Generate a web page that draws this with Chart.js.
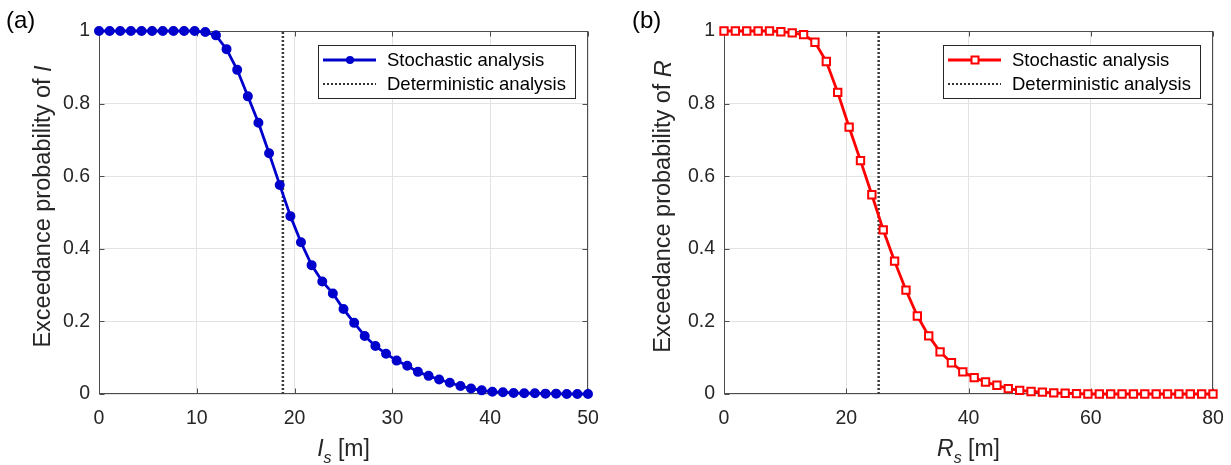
<!DOCTYPE html>
<html><head><meta charset="utf-8">
<script src="https://cdn.jsdelivr.net/npm/chart.js@4.4.1/dist/chart.umd.min.js"></script>
<style>
html,body{margin:0;padding:0;background:#fff;}
#wrap{position:relative;width:1231px;height:465px;overflow:hidden;background:#fff;}
canvas{position:absolute;top:0;}
#cA{left:0}
#cB{left:615px}
</style></head><body>
<div id="wrap"><canvas id="cA" width="615" height="465"></canvas><canvas id="cB" width="616" height="465"></canvas></div>
<script>
// ─── Data: panel (a) ───
const xA=[0,1.09,2.17,3.26,4.35,5.43,6.52,7.61,8.70,9.78,10.87,11.96,13.04,14.13,15.22,16.30,17.39,18.48,19.57,20.65,
  21.74,22.83,23.91,25.00,26.09,27.17,28.26,29.35,30.43,31.52,32.61,33.70,34.78,35.87,36.96,38.04,39.13,40.22,41.30,
  42.39,43.48,44.57,45.65,46.74,47.83,48.91,50.00];
const probA=[1,1,1,1,1,1,1,1,1,1,0.997,0.988,0.950,0.893,0.820,0.747,0.663,0.576,0.490,0.418,
  0.355,0.310,0.277,0.234,0.196,0.160,0.132,0.111,0.092,0.078,0.061,0.050,0.040,0.031,0.022,0.015,0.010,0.006,0.005,
  0.003,0.002,0.002,0.001,0.001,0,0,0];
const detA=18.8;
const ticksXA=[0,10,20,30,40,50];

// ─── Data: panel (b) ───
const xB=[0,1.86,3.72,5.58,7.44,9.30,11.16,13.02,14.88,16.74,18.60,20.47,22.33,24.19,26.05,27.91,29.77,31.63,33.49,35.35,
  37.21,39.07,40.93,42.79,44.65,46.51,48.37,50.23,52.09,53.95,55.81,57.67,59.53,61.40,63.26,65.12,66.98,68.84,70.70,
  72.56,74.42,76.28,78.14,80.00];
const probB=[1,1,1,1,1,0.998,0.995,0.990,0.969,0.916,0.831,0.735,0.643,0.549,0.452,0.366,0.286,0.215,0.160,0.116,
  0.086,0.061,0.045,0.033,0.024,0.015,0.010,0.007,0.005,0.003,0.002,0.001,0,0,0,0,0,0,0,0,0,0,0,0];
const detB=25.3;
const ticksXB=[0,20,40,60,80];

const ticksY=[0,0.2,0.4,0.6,0.8,1];
const legendLabels=['Stochastic analysis','Deterministic analysis'];

const FONT="'Liberation Sans', Arial, Helvetica, sans-serif";
const INK='#262626';

function drawParts(ctx,parts,x,y,align){
    // parts: [text, italic, size, dy]
    let w=0;
    parts.forEach(p=>{ctx.font=(p[1]?'italic ':'')+p[2]+'px '+FONT;w+=ctx.measureText(p[0]).width;});
    let cx=align==='center'?x-w/2:x;
    parts.forEach(p=>{
        ctx.font=(p[1]?'italic ':'')+p[2]+'px '+FONT;
        ctx.fillText(p[0],cx,y+(p[3]||0));
        cx+=ctx.measureText(p[0]).width;
    });
}

function framePlugin(o){
    return {
        id:'frame',
        beforeDatasetsDraw(chart){
            const ctx=chart.ctx,a=chart.chartArea,xs=chart.scales.x,ys=chart.scales.y;
            ctx.save();
            ctx.strokeStyle='#4d4d4d';ctx.lineWidth=1;
            const L=Math.round(a.left)+.5,R=Math.round(a.right)-.5,T=Math.round(a.top)+.5,B=Math.round(a.bottom)-.5;
            ctx.strokeRect(L,T,R-L,B-T);
            ctx.beginPath();
            xs.ticks.forEach(t=>{
                const px=Math.round(xs.getPixelForValue(t.value))+.5;
                ctx.moveTo(px,B);ctx.lineTo(px,B-5);
                ctx.moveTo(px,T);ctx.lineTo(px,T+5);
            });
            ys.ticks.forEach(t=>{
                const py=Math.round(ys.getPixelForValue(t.value))+.5;
                ctx.moveTo(L,py);ctx.lineTo(L+5,py);
                ctx.moveTo(R,py);ctx.lineTo(R-5,py);
            });
            ctx.stroke();
            ctx.restore();
        },
        afterDraw(chart){
            const ctx=chart.ctx,a=chart.chartArea;
            ctx.save();
            // legend box
            const bw=257,bh=53;
            const bx=Math.round(a.right)-13-bw,by=Math.round(a.top)+14;
            ctx.fillStyle='#fff';ctx.fillRect(bx,by,bw,bh);
            ctx.strokeStyle=INK;ctx.lineWidth=1;ctx.strokeRect(bx+.5,by+.5,bw,bh);
            const r1=by+15,r2=by+39;
            ctx.strokeStyle=o.color;ctx.lineWidth=2.8;
            ctx.beginPath();ctx.moveTo(bx+5,r1);ctx.lineTo(bx+58,r1);ctx.stroke();
            if(o.marker==='circle'){
                ctx.fillStyle=o.color;ctx.beginPath();ctx.arc(bx+32,r1,4,0,Math.PI*2);ctx.fill();
            }else{
                ctx.fillStyle='#fff';ctx.lineWidth=2;
                ctx.fillRect(bx+28.5,r1-3.5,7,7);ctx.strokeRect(bx+28.5,r1-3.5,7,7);
            }
            ctx.strokeStyle='#333';ctx.lineWidth=2;ctx.setLineDash([2,2]);
            ctx.beginPath();ctx.moveTo(bx+5,r2);ctx.lineTo(bx+58,r2);ctx.stroke();
            ctx.setLineDash([]);
            ctx.fillStyle='#000';ctx.textBaseline='middle';ctx.textAlign='left';
            ctx.font='18.5px '+FONT;
            ctx.fillText(legendLabels[0],bx+69,r1+1);
            ctx.fillText(legendLabels[1],bx+69,r2+1);

            // axis titles
            ctx.fillStyle=INK;
            ctx.textBaseline='alphabetic';
            drawParts(ctx,[[o.sym,true,23],['s',true,16,7],[' [m]',false,23]],(a.left+a.right)/2,456,'center');
            ctx.save();
            ctx.translate(o.ytx,(a.top+a.bottom)/2-6);
            ctx.rotate(-Math.PI/2);
            ctx.textBaseline='middle';
            drawParts(ctx,[['Exceedance probability of ',false,23.5],[o.sym,true,23.5]],0,0,'center');
            ctx.restore();
            // panel letter
            ctx.fillStyle='#000';ctx.textBaseline='alphabetic';
            ctx.font='24px '+FONT;
            ctx.fillText(o.tag,o.tagX,28);
            ctx.restore();
        }
    };
}

function makePanel(id,xs,ys,det,xMax,o){
    const ctx=document.getElementById(id).getContext('2d');
    const pts=xs.map((x,i)=>({x,y:ys[i]}));
    const stoch={
        label:legendLabels[0],data:pts,borderColor:o.color,borderWidth:2.8,
        pointStyle:o.marker==='circle'?'circle':'rect',
        pointRadius:o.marker==='circle'?4:5.2,
        pointBorderWidth:2,
        pointBackgroundColor:o.marker==='circle'?o.color:'#fff',
        pointBorderColor:o.color,clip:false,tension:0
    };
    const determ={
        label:legendLabels[1],data:[{x:det,y:0},{x:det,y:1}],borderColor:'#3a3a3a',borderWidth:2.5,
        borderDash:[2,2],pointRadius:0
    };
    return new Chart(ctx,{
        type:'line',
        data:{datasets:[stoch,determ]},
        options:{
            responsive:false,animation:false,devicePixelRatio:1,
            layout:{padding:{top:31,right:o.padR,left:0,bottom:0}},
            plugins:{legend:{display:false},tooltip:{enabled:false}},
            scales:{
                x:{type:'linear',min:0,max:xMax,
                    afterBuildTicks:s=>{s.ticks=o.xt.map(v=>({value:v}));},
                    grid:{color:'#e3e3e3',drawTicks:false},border:{display:false},
                    ticks:{color:INK,font:{family:FONT,size:19.5},padding:13,maxRotation:0},
                    afterFit:s=>{s.height=71;s.paddingLeft=0;s.paddingRight=0;}},
                y:{type:'linear',min:0,max:1,
                    afterBuildTicks:s=>{s.ticks=ticksY.map(v=>({value:v}));},
                    grid:{color:'#e3e3e3',drawTicks:false},border:{display:false},
                    ticks:{color:INK,font:{family:FONT,size:19.5},padding:9,
                        callback:v=>String(Math.round(v*10)/10)},
                    afterFit:s=>{s.width=o.yw;s.paddingTop=0;s.paddingBottom=0;}}
            }
        },
        plugins:[framePlugin(o)]
    });
}

makePanel('cA',xA,probA,detA,50,{color:'#0000cc',marker:'circle',sym:'I',padR:27,yw:99,ytx:44,tag:'(a)',tagX:6,xt:ticksXA});
makePanel('cB',xB,probB,detB,80,{color:'#ff0000',marker:'rect',sym:'R',padR:18,yw:109,ytx:49,tag:'(b)',tagX:17,xt:ticksXB});
</script>
</body></html>
